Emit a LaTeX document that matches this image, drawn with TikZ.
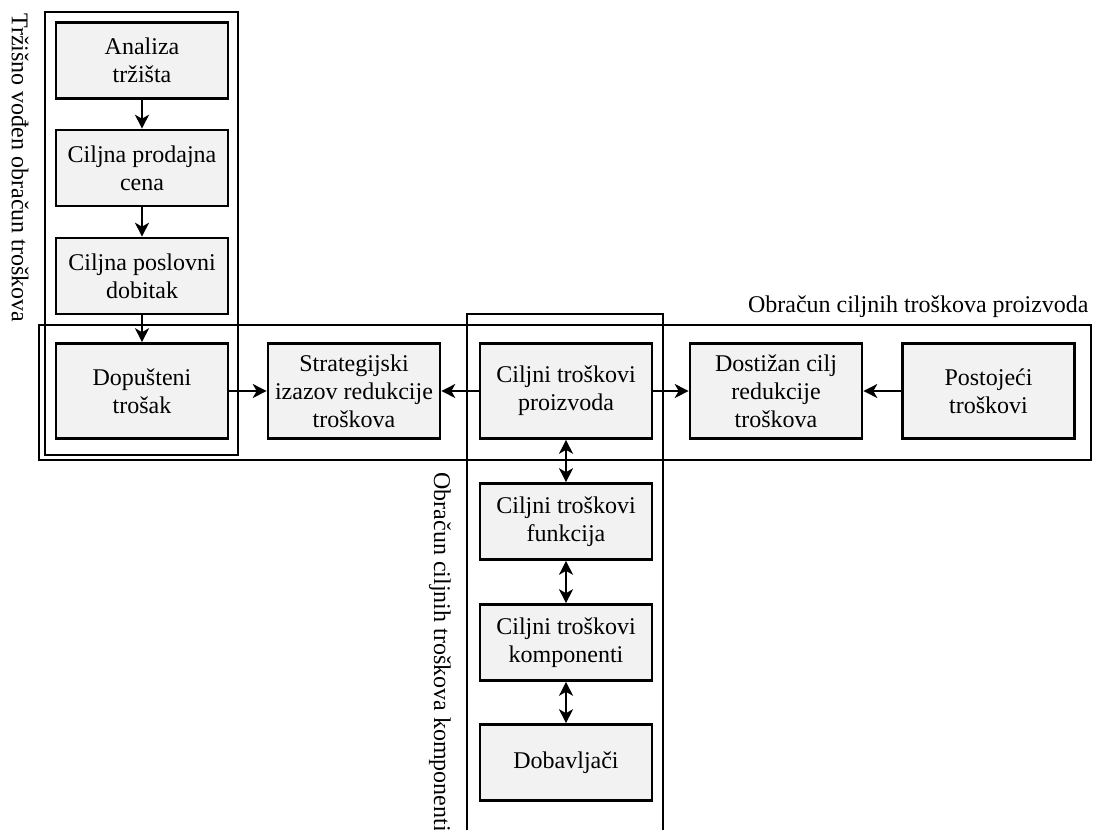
\documentclass[tikz,border=0pt]{standalone}
\usepackage{fontspec}
\setmainfont{Liberation Serif}
\usetikzlibrary{arrows.meta}
\begin{document}
\begin{tikzpicture}[x=0.5pt,y=-0.5pt,
  font=\fontsize{12}{14}\selectfont,
  stepbox/.style={draw, line width=1.3pt, fill=black!5, align=center,
    minimum width=86pt, inner sep=0pt},
  tallbox/.style={stepbox, minimum height=47.5pt},
  shortbox/.style={stepbox, minimum height=38pt},
  group/.style={draw, line width=1.2pt},
  flow/.style={line width=0.75pt, -{Stealth[length=7pt,width=7pt,inset=2pt]}},
  both/.style={line width=0.75pt, {Stealth[length=7pt,width=7pt,inset=2pt]}-{Stealth[length=7pt,width=7pt,inset=2pt]}},
  grouplabel/.style={inner sep=0pt},
  sidelabel/.style={grouplabel, rotate=-90, anchor=west}]
\clip (0,0) rectangle (1093,830);

% group frames
\draw[group] (45,12) rectangle (238,455);
\draw[group] (39,325) rectangle (1091,460);
\draw[group] (467,314) rectangle (663,860);

% group titles
\node[sidelabel] (tlLeft) at (20,13) {Tržišno vođen obračun troškova};
\node[grouplabel, anchor=base east] (tlTop) at (1089,312) {Obračun ciljnih troškova proizvoda};
\node[sidelabel] (tlMid) at (440,472) {Obračun ciljnih troškova komponenti};

% market-driven column
\node[shortbox] (ana) at (142,60.5) {Analiza\\tržišta};
\node[shortbox] (cena) at (142,168) {Ciljna prodajna\\cena};
\node[shortbox] (dob) at (142,276) {Ciljna poslovni\\dobitak};
\node[tallbox] (dop) at (142,391) {Dopušteni\\trošak};

% product row
\node[tallbox] (str) at (354,391) {Strategijski\\izazov redukcije\\troškova};
\node[tallbox] (pro) at (566,391) {Ciljni troškovi\\proizvoda};
\node[tallbox] (dos) at (776,391) {Dostižan cilj\\redukcije\\troškova};
\node[tallbox] (pos) at (988.5,391) {Postojeći\\troškovi};

% component column
\node[shortbox] (fun) at (566,521.5) {Ciljni troškovi\\funkcija};
\node[shortbox] (kom) at (566,642.5) {Ciljni troškovi\\komponenti};
\node[shortbox] (dbv) at (566,762.5) {Dobavljači};

% connectors
\draw[flow] (ana) -- (cena);
\draw[flow] (cena) -- (dob);
\draw[flow] (dob) -- (dop);
\draw[flow] (dop) -- (str);
\draw[flow] (pro) -- (str);
\draw[flow] (pro) -- (dos);
\draw[flow] (pos) -- (dos);
\draw[both] (pro) -- (fun);
\draw[both] (fun) -- (kom);
\draw[both] (kom) -- (dbv);
\end{tikzpicture}
\end{document}
